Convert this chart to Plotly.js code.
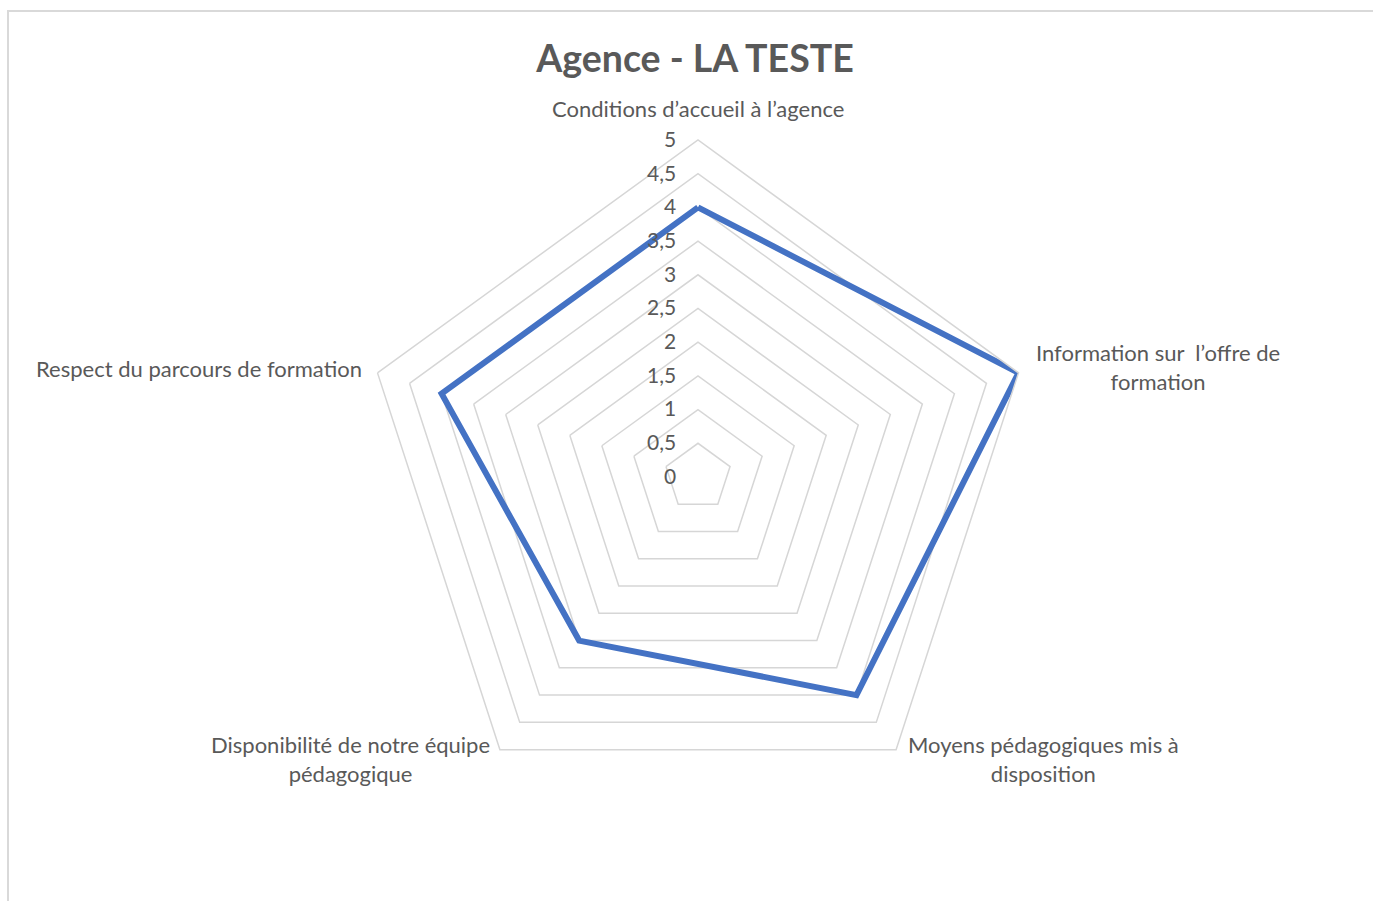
<!DOCTYPE html>
<html>
<head>
<meta charset="utf-8">
<script src="https://cdn.plot.ly/plotly-3.0.1.min.js"></script>
<style>html,body{margin:0;padding:0;background:#fff;}#chart{width:1373px;height:901px;}</style>
</head>
<body>
<div id="chart"></div>
<script>
const categories = [
  "Conditions d’accueil à l’agence",
  "Information sur  l’offre de<br>formation",
  "Moyens pédagogiques mis à<br>disposition",
  "Disponibilité de notre équipe<br>pédagogique",
  "Respect du parcours de formation"
];
const values = [4, 5, 4, 3, 4];
const tickValues = [0, 0.5, 1, 1.5, 2, 2.5, 3, 3.5, 4, 4.5, 5];
const chartTitle = "Agence - LA TESTE";

const theta = categories.concat([categories[0]]);
const r = values.concat([values[0]]);

const FONT = "Lato, 'Open Sans', sans-serif";
const W = 1373, H = 901;
const cx = 698, cy = 477, R = 337;

// label anchor positions (pixels) for each category, in category order
const labelPos = [[698, 109], [1158, 367], [1043, 759], [350, 759], [199, 368]];

const data = [{
  type: 'scatterpolar',
  r: r,
  theta: theta,
  mode: 'lines',
  line: {color: '#4472C4', width: 6, shape: 'linear'},
  hoverinfo: 'r+theta',
  showlegend: false
}];

const annotations = categories.map((c, i) => ({
  text: c,
  xref: 'paper', yref: 'paper',
  x: labelPos[i][0] / W, y: 1 - labelPos[i][1] / H,
  xanchor: 'center', yanchor: 'middle', align: 'center',
  showarrow: false,
  font: {family: FONT, size: 22, color: '#595959'}
}));

const layout = {
  width: W, height: H,
  margin: {l: 0, r: 0, t: 0, b: 0},
  paper_bgcolor: '#ffffff',
  separators: ', ',
  font: {family: FONT, size: 21, color: '#595959'},
  title: {
    text: '<b>' + chartTitle + '</b>',
    font: {family: FONT, size: 37.5, color: '#595959'},
    x: 695 / W, xanchor: 'center',
    y: 1 - 59 / H, yanchor: 'middle'
  },
  polar: {
    domain: {x: [(cx - R) / W, (cx + R) / W], y: [1 - (cy + R) / H, 1 - (cy - R) / H]},
    gridshape: 'linear',
    bgcolor: 'rgba(0,0,0,0)',
    radialaxis: {
      range: [0, 5],
      tickvals: tickValues,
      angle: 90,
      side: 'counterclockwise',
      tickangle: 90,
      showline: false,
      ticks: 'outside',
      ticklen: 14,
      tickcolor: 'rgba(0,0,0,0)',
      gridcolor: '#d6d6d6',
      gridwidth: 1.5,
      tickfont: {family: FONT, size: 21, color: '#595959'}
    },
    angularaxis: {
      rotation: 90,
      direction: 'clockwise',
      showgrid: false,
      showline: true,
      linecolor: '#d6d6d6',
      linewidth: 1.5,
      ticks: '',
      showticklabels: false
    }
  },
  annotations: annotations,
  shapes: [{
    type: 'rect', xref: 'paper', yref: 'paper',
    x0: 8 / W, x1: 1.05, y0: -0.05, y1: 1 - 11 / H,
    line: {color: '#d9d9d9', width: 2}, fillcolor: 'rgba(0,0,0,0)', layer: 'below'
  }]
};

Plotly.newPlot('chart', data, layout, {displayModeBar: false, staticPlot: true});
</script>
</body>
</html>
